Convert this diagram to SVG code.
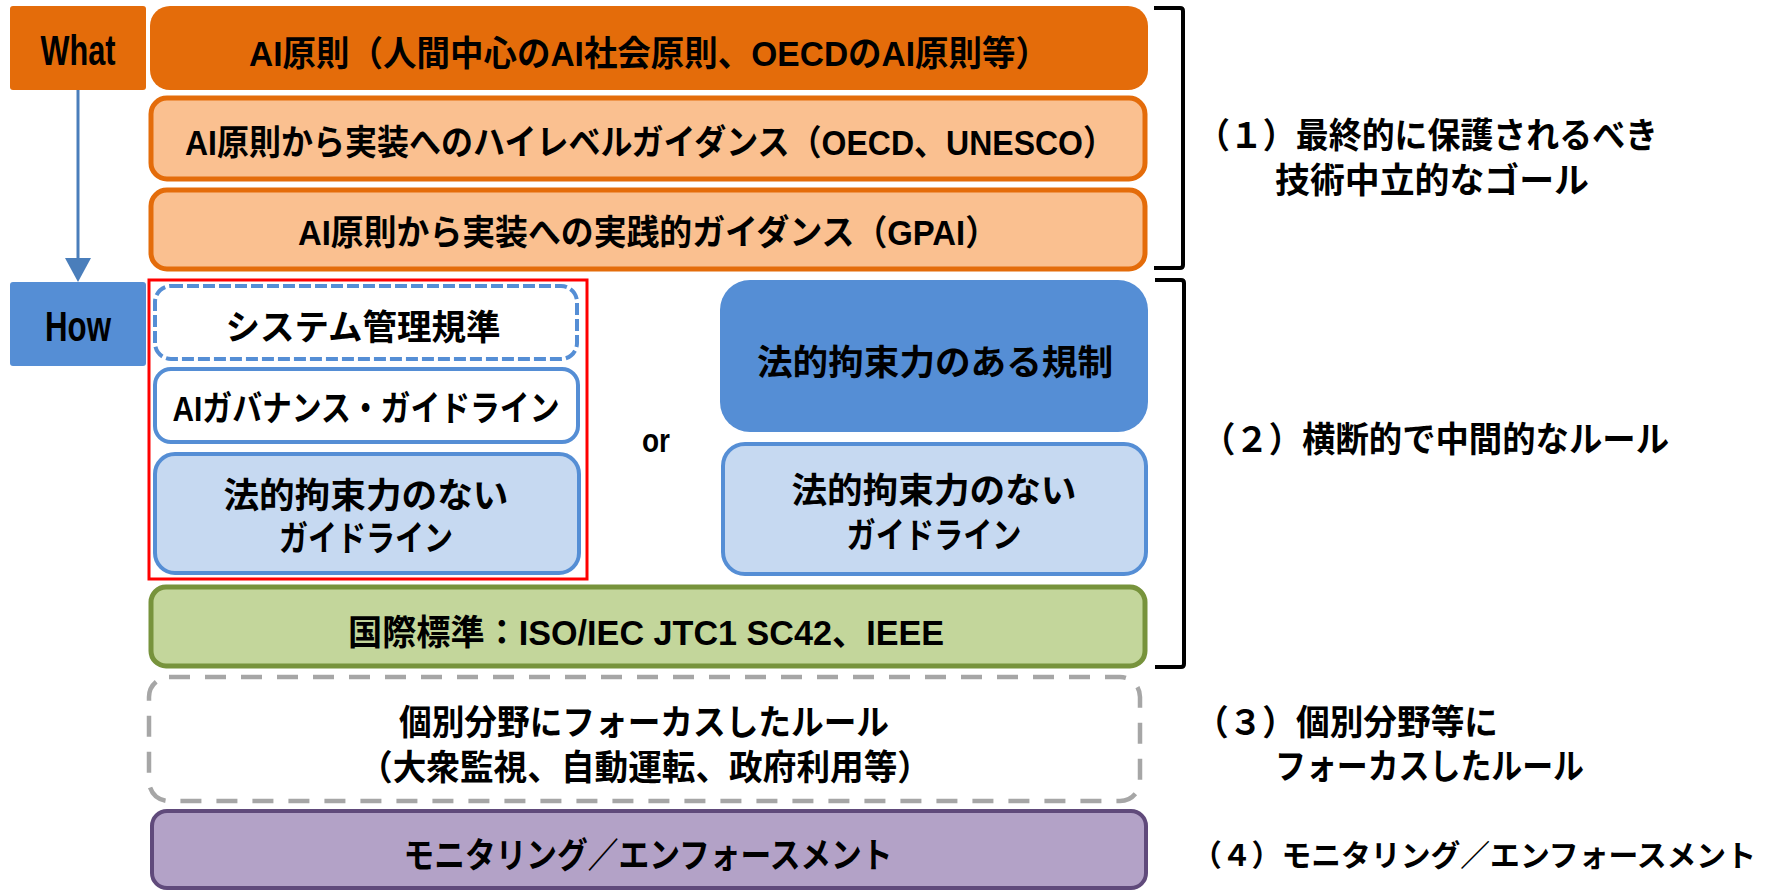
<svg xmlns="http://www.w3.org/2000/svg" width="1779" height="891" viewBox="0 0 1779 891">
<style>
text{font-family:"Liberation Sans","Noto Sans CJK JP",sans-serif;font-weight:bold;fill:#000;font-size:35px}
.c{text-anchor:middle}
.big{font-size:42px}
.or{font-size:34px}
.sm{font-size:30px}
.brk{fill:none;stroke:#000;stroke-width:4;stroke-linejoin:round}
</style>
<rect width="1779" height="891" fill="#fff"/>

<g id="connectors">
<line x1="78" y1="90" x2="78" y2="258" stroke="#4A7EBB" stroke-width="3"/>
<path d="M65,258 L91,258 L78,282 Z" fill="#4A7EBB"/>
<path class="brk" d="M1154,8 L1180,8 Q1183,8 1183,11 L1183,265 Q1183,268 1180,268 L1154,268"/>
<path class="brk" d="M1155,280 L1181,280 Q1184,280 1184,283 L1184,664 Q1184,667 1181,667 L1155,667"/>
</g>

<g id="what">
<rect x="10" y="6" width="136" height="84" rx="3" fill="#E46C0A"/>
<text class="c big" x="78" y="65" textLength="75" lengthAdjust="spacingAndGlyphs">What</text>
</g>
<g id="how">
<rect x="10" y="282" width="136" height="84" rx="3" fill="#558ED5"/>
<text class="c big" x="78" y="341" textLength="66" lengthAdjust="spacingAndGlyphs">How</text>
</g>

<g id="ai-principles">
<rect x="150" y="6" width="998" height="84" rx="20" fill="#E46C0A"/>
<text class="c" x="649" y="66" textLength="800" lengthAdjust="spacingAndGlyphs">AI原則（人間中心のAI社会原則、OECDのAI原則等）</text>
</g>
<g id="high-level-guidance">
<rect x="151" y="98" width="994" height="81" rx="16" fill="#FAC090" stroke="#E46C0A" stroke-width="5"/>
<text class="c" x="650" y="155" textLength="930" lengthAdjust="spacingAndGlyphs">AI原則から実装へのハイレベルガイダンス（OECD、UNESCO）</text>
</g>
<g id="practical-guidance">
<rect x="151" y="190" width="994" height="79" rx="16" fill="#FAC090" stroke="#E46C0A" stroke-width="5"/>
<text class="c" x="648" y="245" textLength="700" lengthAdjust="spacingAndGlyphs">AI原則から実装への実践的ガイダンス（GPAI）</text>
</g>

<g id="red-frame">
<rect x="149" y="280" width="438" height="299" fill="none" stroke="#FF0000" stroke-width="3"/>
</g>
<g id="system-mgmt">
<rect x="155" y="286" width="422" height="73" rx="16" fill="#fff" stroke="#558ED5" stroke-width="4" stroke-dasharray="12 4"/>
<text class="c" x="363" y="340" textLength="275" lengthAdjust="spacingAndGlyphs">システム管理規準</text>
</g>
<g id="ai-governance">
<rect x="155" y="369" width="423" height="73" rx="16" fill="#fff" stroke="#558ED5" stroke-width="4"/>
<text class="c" x="366" y="421" textLength="387" lengthAdjust="spacingAndGlyphs">AIガバナンス・ガイドライン</text>
</g>
<g id="nonbinding-left">
<rect x="155" y="454" width="424" height="119" rx="20" fill="#C6D9F1" stroke="#558ED5" stroke-width="4"/>
<text class="c" x="366" y="508" textLength="285" lengthAdjust="spacingAndGlyphs">法的拘束力のない</text>
<text class="c" x="366" y="551" textLength="174" lengthAdjust="spacingAndGlyphs">ガイドライン</text>
</g>

<g id="or">
<text class="c or" x="656" y="452" textLength="28" lengthAdjust="spacingAndGlyphs">or</text>
</g>

<g id="binding">
<rect x="720" y="280" width="428" height="152" rx="30" fill="#558ED5"/>
<text class="c" x="935" y="375" textLength="356" lengthAdjust="spacingAndGlyphs">法的拘束力のある規制</text>
</g>
<g id="nonbinding-right">
<rect x="723" y="444" width="423" height="130" rx="22" fill="#C6D9F1" stroke="#558ED5" stroke-width="4"/>
<text class="c" x="934" y="503" textLength="285" lengthAdjust="spacingAndGlyphs">法的拘束力のない</text>
<text class="c" x="934" y="548" textLength="175" lengthAdjust="spacingAndGlyphs">ガイドライン</text>
</g>

<g id="intl-standards">
<rect x="151" y="587" width="994" height="79" rx="15" fill="#C3D69B" stroke="#77933C" stroke-width="5"/>
<text class="c" x="646" y="645" textLength="596" lengthAdjust="spacingAndGlyphs">国際標準：ISO/IEC JTC1 SC42、IEEE</text>
</g>

<g id="sector-rules">
<rect x="149" y="677" width="991" height="124" rx="20" fill="#fff" stroke="#A6A6A6" stroke-width="4.5" stroke-dasharray="21 15"/>
<text class="c" x="644" y="735" textLength="490" lengthAdjust="spacingAndGlyphs">個別分野にフォーカスしたルール</text>
<text class="c" x="645" y="780" textLength="572" lengthAdjust="spacingAndGlyphs">（大衆監視、自動運転、政府利用等）</text>
</g>

<g id="monitoring">
<rect x="152" y="811" width="994" height="77" rx="15" fill="#B3A2C7" stroke="#604A7B" stroke-width="4"/>
<text class="c" x="648" y="868" textLength="489" lengthAdjust="spacingAndGlyphs">モニタリング／エンフォースメント</text>
</g>

<g id="labels">
<text x="1197" y="148" textLength="461" lengthAdjust="spacingAndGlyphs">（１）最終的に保護されるべき</text>
<text x="1275" y="193" textLength="314" lengthAdjust="spacingAndGlyphs">技術中立的なゴール</text>
<text x="1202" y="452" textLength="467" lengthAdjust="spacingAndGlyphs">（２）横断的で中間的なルール</text>
<text x="1195" y="735" textLength="303" lengthAdjust="spacingAndGlyphs">（３）個別分野等に</text>
<text x="1275" y="779" textLength="309" lengthAdjust="spacingAndGlyphs">フォーカスしたルール</text>
<text class="sm" x="1192" y="866" textLength="564" lengthAdjust="spacingAndGlyphs">（４）モニタリング／エンフォースメント</text>
</g>
</svg>
